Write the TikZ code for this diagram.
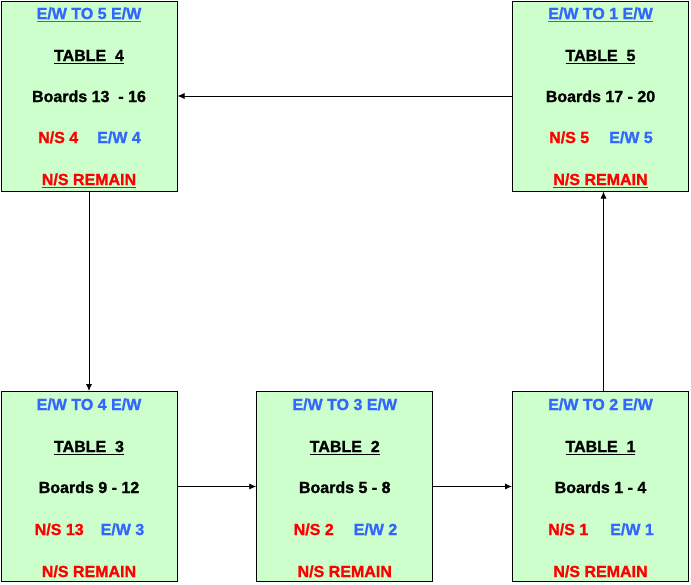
\documentclass[tikz,border=0pt]{standalone}
\usepackage{fontspec}
\setmainfont{Liberation Sans}[BoldFeatures={FakeBold=1.2}]
\usetikzlibrary{arrows.meta}
\definecolor{boxgreen}{HTML}{CCFFCC}
\definecolor{ewblue}{HTML}{3366FF}
\definecolor{nsred}{HTML}{FF0000}
\newsavebox\ulinebox
\newcommand\ulin[1]{\sbox\ulinebox{#1}\leavevmode\rlap{\rule[-3pt]{\wd\ulinebox}{1.5pt}}\usebox\ulinebox}
\tikzset{
  tbox/.style={draw=black,line width=1pt,fill=boxgreen,minimum width=176pt,minimum height=190pt,inner sep=0pt},
  txt/.style={anchor=base,inner sep=0pt,font=\fontsize{16}{19}\selectfont\bfseries},
  arr/.style={-{Latex[length=7pt,width=6pt]},line width=0.8pt},
}
\begin{document}
\begin{tikzpicture}[x=1pt,y=-1pt]
\useasboundingbox[fill=white] (0,0) rectangle (691,584);
% boxes
\node[tbox] (t4) at (89,96) {};
\node[tbox] (t5) at (600.5,96) {};
\node[tbox] (t3) at (89,486.5) {};
\node[tbox] (t2) at (344.75,486.5) {};
\node[tbox] (t1) at (600.5,486.5) {};
% table 4
\node[txt,text=ewblue] (t4a) at (89,19) {\ulin{E/W TO 5 E/W}};
\node[txt] (t4b) at (89,61) {\ulin{TABLE\ \ 4}};
\node[txt] (t4c) at (89,102) {Boards 13\ \ - 16};
\node[txt] (t4d) at (89.5,143) {\textcolor{nsred}{N/S 4}\hspace{19pt}\textcolor{ewblue}{E/W 4}};
\node[txt,text=nsred] (t4e) at (89,185) {\ulin{N/S REMAIN}};
% table 5
\node[txt,text=ewblue] (t5a) at (600.5,19) {\ulin{E/W TO 1 E/W}};
\node[txt] (t5b) at (600.5,61) {\ulin{TABLE\ \ 5}};
\node[txt] (t5c) at (600.5,102) {Boards 17 - 20};
\node[txt] (t5d) at (601,143) {\textcolor{nsred}{N/S 5}\hspace{20pt}\textcolor{ewblue}{E/W 5}};
\node[txt,text=nsred] (t5e) at (600.5,185) {\ulin{N/S REMAIN}};
% table 3
\node[txt,text=ewblue] (t3a) at (89,410) {E/W TO 4 E/W};
\node[txt] (t3b) at (89,452) {\ulin{TABLE\ \ 3}};
\node[txt] (t3c) at (89,493) {Boards 9 - 12};
\node[txt] (t3d) at (89.5,535) {\textcolor{nsred}{N/S 13}\hspace{17pt}\textcolor{ewblue}{E/W 3}};
\node[txt,text=nsred] (t3e) at (89,577) {N/S REMAIN};
% table 2
\node[txt,text=ewblue] (t2a) at (344.75,410) {E/W TO 3 E/W};
\node[txt] (t2b) at (344.75,452) {\ulin{TABLE\ \ 2}};
\node[txt] (t2c) at (344.75,493) {Boards 5 - 8};
\node[txt] (t2d) at (345.5,535) {\textcolor{nsred}{N/S 2}\hspace{20pt}\textcolor{ewblue}{E/W 2}};
\node[txt,text=nsred] (t2e) at (344.75,577) {N/S REMAIN};
% table 1
\node[txt,text=ewblue] (t1a) at (600.5,410) {E/W TO 2 E/W};
\node[txt] (t1b) at (600.5,452) {\ulin{TABLE\ \ 1}};
\node[txt] (t1c) at (600.5,493) {Boards 1 - 4};
\node[txt] (t1d) at (601,535) {\textcolor{nsred}{N/S 1}\hspace{22pt}\textcolor{ewblue}{E/W 1}};
\node[txt,text=nsred] (t1e) at (600.5,577) {N/S REMAIN};
% connectors
\draw[arr] (t5) -- (t4);
\draw[arr] (t4) -- (t3);
\draw[arr] (t3) -- (t2);
\draw[arr] (t2) -- (t1);
\draw[arr] ([xshift=3pt]t1.north) -- ([xshift=3pt]t5.south);
\end{tikzpicture}
\end{document}
